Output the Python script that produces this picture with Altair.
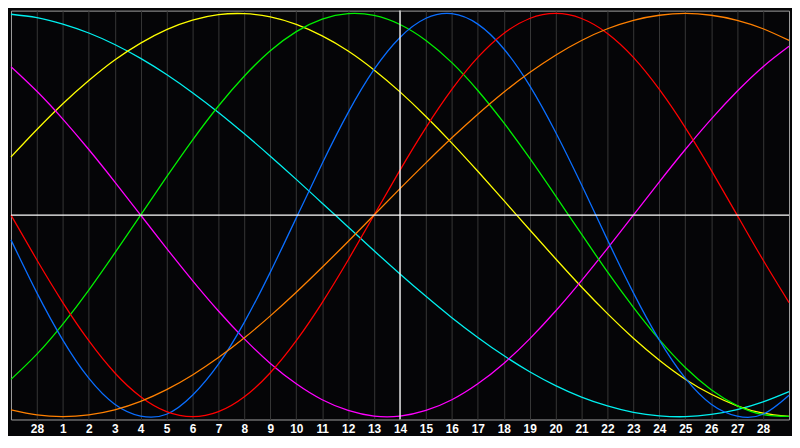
import json
import altair as alt
import pandas as pd

# Day positions along the x axis (0 = left edge, 30 = right edge)
DAYS = list(range(31))

# Tick positions and their labels (previous month ends on the 28th)
TICK_POS = [1, 2, 3, 4, 5, 6, 7, 8, 9, 10, 11, 12, 13, 14, 15, 16, 17, 18, 19, 20,
            21, 22, 23, 24, 25, 26, 27, 28, 29]
TICK_LABELS = ["28", "1", "2", "3", "4", "5", "6", "7", "8", "9", "10", "11", "12",
               "13", "14", "15", "16", "17", "18", "19", "20", "21", "22", "23",
               "24", "25", "26", "27", "28"]

# Cycle values (percent), one value per day
PHYSICAL = [-12.3, -38.6, -62.0, -80.9, -93.8, -99.7, -98.8, -89.4, -74.0, -53.1,
            -28.3, -1.4, 25.6, 50.8, 72.2, 88.1, 97.6, 99.9, 94.7, 82.5,
            64.2, 41.1, 15.0, -12.3, -38.6, -62.0, -80.9, -93.8, -99.7, -98.8, -89.4]
EMOTIONAL = [0.0, -22.3, -43.4, -62.3, -78.2, -90.1, -97.5, -100.0, -97.5, -90.1,
             -78.2, -62.3, -43.4, -22.3, 0.0, 22.3, 43.4, 62.3, 78.2, 90.1,
             97.5, 100.0, 97.5, 90.1, 78.2, 62.3, 43.4, 22.3, 0.0, -22.3, -43.4]
INTELLECTUAL = [-81.5, -69.0, -54.1, -37.2, -18.9, 0.0, 18.9, 37.2, 54.1, 69.0,
                81.5, 91.0, 97.2, 99.9, 99.0, 94.5, 86.6, 75.6, 61.8, 45.8,
                28.2, 9.5, -9.5, -28.2, -45.8, -61.8, -75.6, -86.6, -94.5, -99.0, -99.9]
INTUITIVE = [73.6, 61.4, 47.6, 32.5, 16.5, 0.0, -16.5, -32.5, -47.6, -61.4,
             -73.6, -83.7, -91.6, -96.9, -99.7, -99.7, -96.9, -91.6, -83.7, -73.6,
             -61.4, -47.6, -32.5, -16.5, 0.0, 16.5, 32.5, 47.6, 61.4, 73.6, 83.7]
AESTHETIC = [28.8, 42.4, 55.2, 66.7, 76.9, 85.3, 92.0, 96.7, 99.4, 99.9,
             98.3, 94.6, 88.9, 81.4, 72.0, 61.1, 48.9, 35.7, 21.7, 7.3,
             -7.3, -21.7, -35.7, -48.9, -61.1, -72.0, -81.4, -88.9, -94.6, -98.3, -99.9]
AWARENESS = [-96.6, -99.1, -100.0, -99.1, -96.6, -92.4, -86.6, -79.3, -70.7, -60.9,
             -50.0, -38.3, -25.9, -13.1, 0.0, 13.1, 25.9, 38.3, 50.0, 60.9,
             70.7, 79.3, 86.6, 92.4, 96.6, 99.1, 100.0, 99.1, 96.6, 92.4, 86.6]
SPIRITUAL = [99.6, 97.9, 94.7, 90.3, 84.6, 77.7, 69.7, 60.7, 50.9, 40.3,
             29.2, 17.7, 5.9, -5.9, -17.7, -29.2, -40.3, -50.9, -60.7, -69.7,
             -77.7, -84.6, -90.3, -94.7, -97.9, -99.6, -100.0, -98.9, -96.5, -92.7, -87.6]

NAMES = ["Spiritual", "Aesthetic", "Intuitive", "Intellectual", "Physical", "Emotional", "Awareness"]
SERIES = [SPIRITUAL, AESTHETIC, INTUITIVE, INTELLECTUAL, PHYSICAL, EMOTIONAL, AWARENESS]
COLORS = ["#00f0f0", "#ffff00", "#ff00ff", "#00f000", "#0a6eff", "#ff0000", "#ff8000"]

CENTER_DAY = [15]
ZERO_LINE = [0]

rows = []
for name, vals in zip(NAMES, SERIES):
    for d, v in zip(DAYS, vals):
        rows.append({"day": d, "value": v, "cycle": name})
df = pd.DataFrame(rows)

label_expr = json.dumps(TICK_LABELS) + "[datum.value - 1]"

x_enc = alt.X(
    "day:Q",
    scale=alt.Scale(domain=[0, 30], nice=False, zero=False),
    axis=alt.Axis(
        values=TICK_POS,
        labelExpr=label_expr,
        grid=True,
        gridColor="#363636",
        gridWidth=1,
        ticks=False,
        domain=False,
        labelColor="#ffffff",
        labelFont="Liberation Sans",
        labelFontWeight="bold",
        labelFontSize=12,
        labelPadding=4,
        labelFlush=False,
        labelOverlap=False,
        title=None,
    ),
)
y_enc = alt.Y(
    "value:Q",
    scale=alt.Scale(domain=[-101.4, 101.4], nice=False, zero=False),
    axis=None,
)

vrule = alt.Chart(pd.DataFrame({"day": CENTER_DAY})).mark_rule(
    color="#ffffff", strokeWidth=1.3
).encode(x=x_enc)

hrule = alt.Chart(pd.DataFrame({"value": ZERO_LINE})).mark_rule(
    color="#ffffff", strokeWidth=1.3
).encode(y=y_enc)

lines = alt.Chart(df).mark_line(strokeWidth=1.3, interpolate="natural").encode(
    x=x_enc,
    y=y_enc,
    color=alt.Color("cycle:N", scale=alt.Scale(domain=NAMES, range=COLORS), legend=None),
)

chart = alt.layer(lines, vrule, hrule).properties(
    width=784, height=412, padding=0, background="#050507"
).configure_view(
    stroke="#a0a0a0", strokeWidth=1, fill="#050507"
)

chart.save("out.html", embed_options={"renderer": "svg", "actions": False})
